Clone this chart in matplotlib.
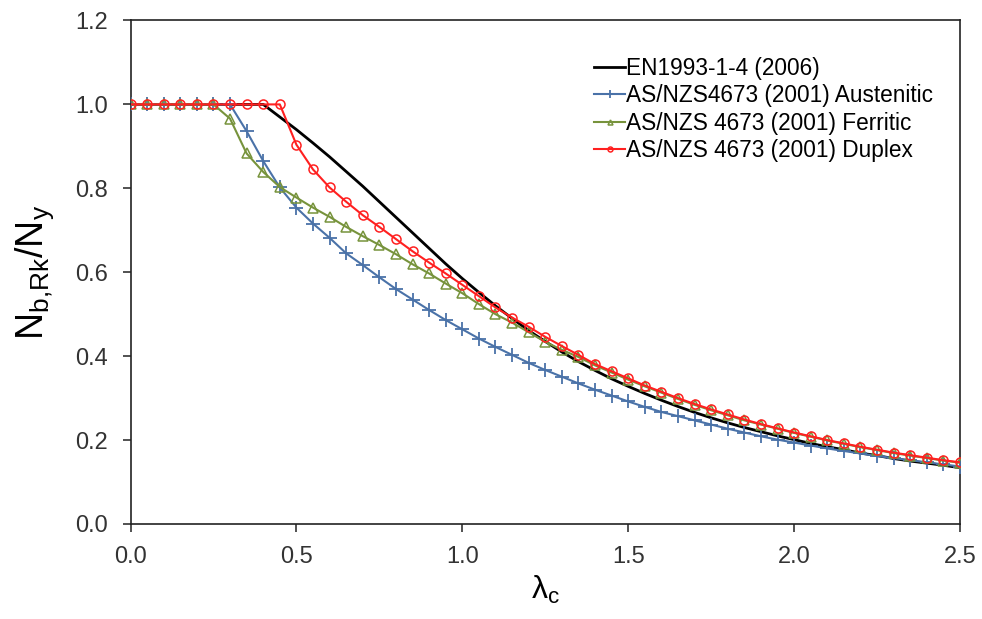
import matplotlib
matplotlib.use("Agg")
import matplotlib.pyplot as plt

plt.rcParams['font.family'] = ['Liberation Sans', 'DejaVu Sans']
plt.rcParams['mathtext.fontset'] = 'custom'
plt.rcParams['mathtext.rm'] = 'Liberation Sans'
plt.rcParams['mathtext.it'] = 'Liberation Sans'

# Non-dimensional slenderness
lam = [0.00, 0.05, 0.10, 0.15, 0.20, 0.25, 0.30, 0.35, 0.40, 0.45,
       0.50, 0.55, 0.60, 0.65, 0.70, 0.75, 0.80, 0.85, 0.90, 0.95,
       1.00, 1.05, 1.10, 1.15, 1.20, 1.25, 1.30, 1.35, 1.40, 1.45,
       1.50, 1.55, 1.60, 1.65, 1.70, 1.75, 1.80, 1.85, 1.90, 1.95,
       2.00, 2.05, 2.10, 2.15, 2.20, 2.25, 2.30, 2.35, 2.40, 2.45, 2.50]

# EN1993-1-4 (2006) buckling reduction factor
en1993 = [1.000, 1.000, 1.000, 1.000, 1.000, 1.000, 1.000, 1.000, 1.000, 0.970,
          0.940, 0.908, 0.875, 0.840, 0.805, 0.768, 0.731, 0.694, 0.657, 0.620,
          0.585, 0.552, 0.520, 0.490, 0.461, 0.435, 0.410, 0.387, 0.366, 0.346,
          0.328, 0.311, 0.295, 0.280, 0.266, 0.253, 0.241, 0.230, 0.220, 0.210,
          0.201, 0.192, 0.184, 0.177, 0.169, 0.163, 0.156, 0.150, 0.145, 0.140, 0.134]

# AS/NZS 4673 (2001) austenitic
austenitic = [1.000, 1.000, 1.000, 1.000, 1.000, 1.000, 1.000, 0.936, 0.865, 0.802,
              0.754, 0.716, 0.682, 0.645, 0.617, 0.588, 0.560, 0.535, 0.510, 0.486,
              0.464, 0.442, 0.422, 0.403, 0.384, 0.367, 0.351, 0.335, 0.320, 0.306,
              0.292, 0.279, 0.267, 0.257, 0.247, 0.237, 0.227, 0.218, 0.209, 0.201,
              0.194, 0.187, 0.180, 0.174, 0.168, 0.162, 0.157, 0.152, 0.147, 0.142, 0.137]

# AS/NZS 4673 (2001) ferritic
ferritic = [1.000, 1.000, 1.000, 1.000, 1.000, 1.000, 0.966, 0.883, 0.839, 0.803,
            0.778, 0.754, 0.732, 0.708, 0.686, 0.665, 0.643, 0.619, 0.597, 0.573,
            0.550, 0.524, 0.500, 0.480, 0.457, 0.434, 0.415, 0.398, 0.378, 0.361,
            0.344, 0.328, 0.313, 0.298, 0.284, 0.271, 0.259, 0.247, 0.237, 0.227,
            0.217, 0.208, 0.199, 0.191, 0.183, 0.176, 0.169, 0.163, 0.157, 0.151, 0.146]

# AS/NZS 4673 (2001) duplex
duplex = [1.000, 1.000, 1.000, 1.000, 1.000, 1.000, 1.000, 1.000, 1.000, 1.000,
          0.904, 0.845, 0.802, 0.768, 0.736, 0.708, 0.679, 0.650, 0.623, 0.597,
          0.570, 0.543, 0.516, 0.492, 0.470, 0.446, 0.424, 0.403, 0.381, 0.364,
          0.347, 0.330, 0.315, 0.300, 0.286, 0.273, 0.261, 0.249, 0.238, 0.228,
          0.218, 0.209, 0.200, 0.192, 0.184, 0.177, 0.170, 0.164, 0.158, 0.152, 0.147]

labels = ["EN1993-1-4 (2006)",
          "AS/NZS4673 (2001) Austenitic",
          "AS/NZS 4673 (2001) Ferritic",
          "AS/NZS 4673 (2001) Duplex"]

x_ticks = [0.0, 0.5, 1.0, 1.5, 2.0, 2.5]
y_ticks = [0.0, 0.2, 0.4, 0.6, 0.8, 1.0, 1.2]

fig = plt.figure(figsize=(9.82, 6.19), dpi=100)
ax = fig.add_axes([0.1329, 0.1535, 0.9776 - 0.1329, 0.9669 - 0.1535])

ax.plot(lam, en1993, color='black', lw=2.0, label=labels[0], zorder=3)
ax.plot(lam, austenitic, color='#4A72A8', lw=1.5, marker='+', ms=10, mew=1.3,
        label=labels[1], zorder=4)
ax.plot(lam, ferritic, color='#77933C', lw=1.5, marker='^', ms=6.5, mew=1.1,
        mfc='none', label=labels[2], zorder=5)
ax.plot(lam, duplex, color='#FF2020', lw=1.5, marker='o', ms=6.5, mew=1.1,
        mfc='none', label=labels[3], zorder=6)

ax.set_xlim(0, 2.5)
ax.set_ylim(0, 1.2)
ax.set_xticks(x_ticks)
ax.set_yticks(y_ticks)
ax.set_xticklabels([f"{v:.1f}" for v in x_ticks])
ax.set_yticklabels([f"{v:.1f}" for v in y_ticks])
ax.tick_params(axis='both', direction='out', length=6, width=1.2,
               labelsize=17, colors='#333333', pad=10)
ax.tick_params(axis='x', pad=10)
for s in ax.spines.values():
    s.set_linewidth(1.2)
    s.set_color('#222222')

ax.set_xlabel(r'$\lambda_\mathrm{c}$', fontsize=23, labelpad=4)
ax.set_ylabel(r'$\mathrm{N_{b{,}Rk}/N_y}$', fontsize=27, labelpad=14)

leg = ax.legend(loc='upper right', frameon=False, fontsize=16.3,
                handlelength=1.37, handletextpad=0.05, markerscale=0.55,
                labelspacing=0.2, borderaxespad=0.0, borderpad=0.0,
                bbox_to_anchor=(0.968, 0.928))

fig.savefig('out.png', dpi=100)
